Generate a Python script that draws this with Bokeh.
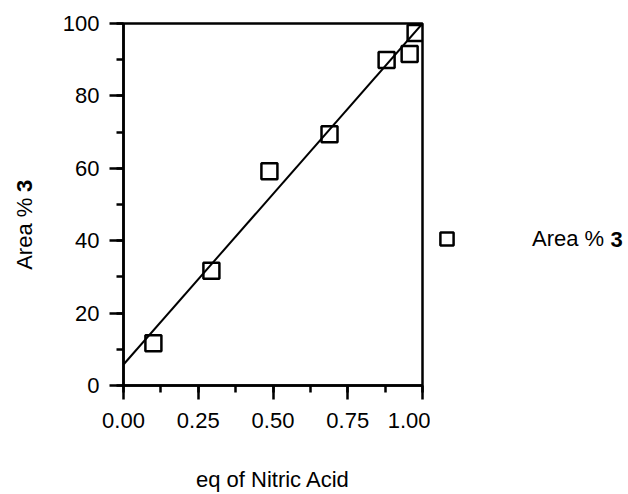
import math
from bokeh.plotting import figure
from bokeh.layouts import row
from bokeh.models import (Range1d, SingleIntervalTicker, NumeralTickFormatter,
                          Legend, LegendItem, Label)
from bokeh.embed import file_html
from bokeh.resources import INLINE

# data
eq_nitric = [0.10, 0.294, 0.488, 0.689, 0.88, 0.957, 0.977]
area_pct = [11.7, 31.7, 59.2, 69.4, 89.9, 91.6, 97.4]
fit_x = [0.0, 1.0]
fit_y = [5.8, 100.0]
series_name = "Area %"
compound = "3"

FONT = "Liberation Sans"
H = 494
TOP, BOTTOM = 23, 386  # frame edges on the canvas (aligned across the row)


def blank(width):
    # side strip whose data units are canvas pixels (y measured from the top)
    f = figure(width=width, height=H, output_backend="svg", toolbar_location=None,
               x_range=Range1d(0, width), y_range=Range1d(BOTTOM, TOP),
               x_axis_location=None, y_axis_location=None,
               min_border_left=0, min_border_right=0,
               min_border_top=TOP, min_border_bottom=H - BOTTOM)
    f.grid.visible = False
    f.outline_line_color = None
    f.background_fill_color = "white"
    f.border_fill_color = "white"
    return f


# ---- main plot ----
p = figure(width=380, height=H, output_backend="svg", toolbar_location=None,
           x_range=Range1d(0, 1), y_range=Range1d(0, 100),
           min_border_left=73, min_border_right=8,
           min_border_top=TOP, min_border_bottom=H - BOTTOM)
p.grid.visible = False
p.outline_line_color = "black"
p.outline_line_width = 2.5
p.background_fill_color = "white"
p.border_fill_color = "white"

p.line(fit_x, fit_y, line_color="black", line_width=2)
p.scatter(eq_nitric, area_pct, marker="square", size=16,
          fill_color=None, line_color="black", line_width=2.5)

xa = p.xaxis[0]
xa.ticker = SingleIntervalTicker(interval=0.25, num_minor_ticks=2)
xa.formatter = NumeralTickFormatter(format="0.00")
xa.axis_label = "eq of Nitric Acid"
xa.axis_label_standoff = 36
ya = p.yaxis[0]
ya.ticker = SingleIntervalTicker(interval=20, num_minor_ticks=2)

for ax in (xa, ya):
    ax.axis_line_width = 2.5
    ax.axis_line_color = "black"
    ax.major_tick_line_width = 2.5
    ax.minor_tick_line_width = 2.5
    ax.major_tick_out = 14
    ax.major_tick_in = 0
    ax.minor_tick_out = 7
    ax.minor_tick_in = 0
    ax.major_label_text_font = FONT
    ax.major_label_text_font_size = "22px"
    ax.major_label_text_color = "black"
    ax.axis_label_text_font = FONT
    ax.axis_label_text_font_size = "22px"
    ax.axis_label_text_font_style = "normal"
    ax.axis_label_text_color = "black"
xa.major_label_standoff = 13
ya.major_label_standoff = 10

# ---- left strip: y-axis title with bold compound number ----
left = blank(50)
left.add_layout(Label(x=24, y=270, text=series_name, angle=math.pi / 2,
                      text_align="left", text_baseline="middle",
                      text_font=FONT, text_font_size="22px", text_color="black"))
left.add_layout(Label(x=24, y=192, text=compound, angle=math.pi / 2,
                      text_align="left", text_baseline="middle",
                      text_font=FONT, text_font_size="22px", text_font_style="bold",
                      text_color="black"))

# ---- right strip: legend ----
right = blank(198)
key = right.scatter(eq_nitric, area_pct, marker="square", size=16,
                    fill_color=None, line_color="black", line_width=2.5,
                    visible=False)
legend = Legend(items=[LegendItem(label=series_name, renderers=[key])],
                location=(0, 130), padding=0, margin=0, spacing=0,
                glyph_width=33, glyph_height=33, label_standoff=69,
                border_line_alpha=0, background_fill_alpha=0,
                label_text_font=FONT, label_text_font_size="22px",
                label_text_color="black")
right.add_layout(legend, "center")
right.add_layout(Label(x=180, y=239.5, text=compound,
                       text_align="left", text_baseline="middle",
                       text_font=FONT, text_font_size="22px", text_font_style="bold",
                       text_color="black"))

layout = row(left, p, right, spacing=0)
open("out.html", "w").write(file_html(layout, INLINE))
